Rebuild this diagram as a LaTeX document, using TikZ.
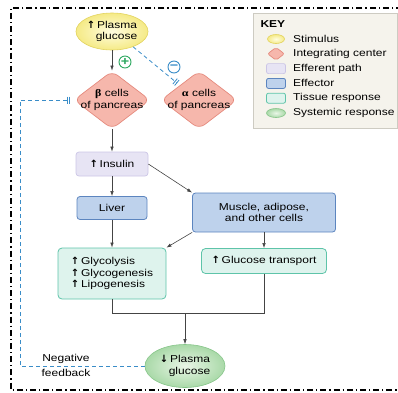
\documentclass[tikz,border=0pt]{standalone}
\usepackage{fontspec}
\setmainfont{Liberation Sans}[FakeStretch=1.2]
\newfontfamily\grkfont{Liberation Serif}[FakeStretch=1.2]
\newfontfamily\arrfont{DejaVu Sans}
\usepackage{tikz}
\usetikzlibrary{arrows.meta, shadows}
\usepgflibrary{shapes}
\definecolor{stimin}{HTML}{FFFDE0}
\definecolor{stimout}{HTML}{F5EA86}
\definecolor{stimline}{HTML}{E2D35E}
\definecolor{intfill}{HTML}{F6B7AC}
\definecolor{intline}{HTML}{E58A7D}
\definecolor{efffill}{HTML}{E7E4F4}
\definecolor{effline}{HTML}{CBC5E6}
\definecolor{fxfill}{HTML}{BED2EC}
\definecolor{fxline}{HTML}{5C85BF}
\definecolor{tisfill}{HTML}{DEF3ED}
\definecolor{tisline}{HTML}{5EC4A9}
\definecolor{sysin}{HTML}{EAF6E7}
\definecolor{sysout}{HTML}{A9D9A8}
\definecolor{sysline}{HTML}{86C589}
\definecolor{keyfill}{HTML}{F5F3EC}
\definecolor{keyline}{HTML}{CDCBC2}
\definecolor{fbblue}{HTML}{3A8DC8}
\definecolor{plusgreen}{HTML}{2DA860}
\definecolor{arrgray}{HTML}{444444}
\newcommand\Up{{\arrfont\bfseries ↑}\,}
\newcommand\Dn{{\arrfont\bfseries ↓}\,}

\begin{document}
\begin{tikzpicture}[x=1pt, y=-1pt,
    font=\fontsize{10}{11.5}\selectfont,
    stim/.style={ellipse, draw=stimline, line width=0.6pt, inner color=stimin, outer color=stimout},
    intc/.style={diamond, draw=intline, fill=intfill, line width=0.7pt, rounded corners=7pt,
        minimum width=76pt, minimum height=58pt, inner sep=0pt},
    eff/.style={rectangle, rounded corners=3pt, draw=effline, fill=efffill, line width=0.7pt},
    fx/.style={rectangle, rounded corners=3pt, draw=fxline, fill=fxfill, line width=0.8pt},
    tis/.style={rectangle, rounded corners=4pt, draw=tisline, fill=tisfill, line width=0.8pt},
    sys/.style={ellipse, draw=sysline, line width=0.6pt, inner color=sysin, outer color=sysout},
    arr/.style={draw=arrgray, line width=0.6pt, -{Latex[length=5pt,width=3.5pt]}},
    ln/.style={draw=arrgray, line width=0.6pt},
    fb/.style={draw=fbblue, line width=0.8pt, dash pattern=on 4pt off 3pt},
    inh/.style={fb, -{Bar[width=7pt,sep=1.5pt]Bar[width=7pt,sep=1.5pt]}, shorten >=2pt},
    sign/.style={circle, draw, fill=white, line width=0.9pt, inner sep=0pt, minimum size=12pt,
        font=\bfseries\fontsize{12}{12}\selectfont},
    frame/.style={line width=1.1pt, dash pattern=on 6pt off 3pt on 1.2pt off 3pt}]

  \useasboundingbox (0,0) rectangle (398,392);
  \draw[frame] (402,8) -| (11,390) -- (402,390);

  % key
  \node[draw=keyline, fill=keyfill, line width=0.6pt, minimum width=144pt, minimum height=115pt,
      drop shadow={opacity=0.25, shadow xshift=1pt, shadow yshift=-1pt}] (key) at (325,70.5) {};
  \node[anchor=west, font=\bfseries\fontsize{10}{11}\selectfont] (keyt) at (257,24) {KEY};
  \tikzset{
    kstim/.style={stim, minimum width=17pt, minimum height=9pt, inner sep=0pt},
    kint/.style={intc, minimum width=17pt, minimum height=13pt, rounded corners=2pt},
    keff/.style={eff, minimum width=19pt, minimum height=10pt, inner sep=0pt, rounded corners=2pt},
    kfx/.style={fx, minimum width=19pt, minimum height=10pt, inner sep=0pt, rounded corners=2pt},
    ktis/.style={tis, minimum width=19pt, minimum height=10pt, inner sep=0pt, rounded corners=2pt},
    ksys/.style={sys, minimum width=19pt, minimum height=9pt, inner sep=0pt}}
  \foreach \s/\t [count=\i from 0] in {kstim/Stimulus, kint/Integrating center, keff/Efferent path,
      kfx/Effector, ktis/Tissue response, ksys/Systemic response}{
    \node[\s] (k\i) at (276,39+14.8*\i) {};
    \node[anchor=west, inner sep=0pt] (kt\i) at (293,39+14.8*\i) {\t};
  }

  % pathway
  \node[stim, minimum width=72pt, minimum height=37pt, inner sep=0pt, align=center] (hi) at (112,31.5)
      {\Up Plasma\\\hspace*{9pt}glucose};
  \node[intc, label={[align=center]center:{{\grkfont\bfseries β} cells\\of pancreas}}] (beta) at (112,100) {};
  \node[intc, label={[align=center]center:{{\grkfont\bfseries α} cells\\of pancreas}}] (alpha) at (199,100) {};
  \node[sign, draw=plusgreen, text=plusgreen] (plus) at (125,62) {+};
  \node[sign, draw=fbblue, text=fbblue] (minus) at (174,67) {−};
  \node[eff, minimum width=72pt, minimum height=24pt] (ins) at (112,164) {\Up Insulin};
  \node[fx, minimum width=70pt, minimum height=23pt] (liver) at (112,208) {Liver};
  \node[fx, minimum width=143pt, minimum height=39pt, align=center] (muscle) at (264,212.5)
      {Muscle, adipose,\\and other cells};
  \node[tis, minimum width=108pt, minimum height=51pt, align=left] (glyco) at (112,273.5)
      {\Up Glycolysis\\\Up Glycogenesis\\\Up Lipogenesis};
  \node[tis, minimum width=125pt, minimum height=25pt] (transp) at (264,261) {\Up Glucose transport};
  \node[sys, minimum width=80pt, minimum height=43pt, inner sep=0pt, align=center] (lo) at (185,366)
      {\Dn Plasma\\\hspace*{9pt}glucose};
  \node[align=center, font=\fontsize{10}{15}\selectfont] (negfb) at (66,365) {Negative\\feedback};
  \coordinate (j) at (185,313);
  \coordinate (fbx) at (20,0);

  \draw[arr] (hi) -- (beta);
  \draw[inh] (hi.-36) -- (alpha.north west);
  \draw[arr] (beta) -- (ins);
  \draw[arr] (ins) -- (liver);
  \draw[arr] (ins.east) -- (muscle.north west);
  \draw[arr] (liver) -- (glyco);
  \draw[arr] (muscle.south west) -- (glyco.north east);
  \draw[arr] (muscle) -- (transp);
  \draw[ln] (glyco.south) |- (j) -| (transp.south);
  \draw[arr] (j) -- (lo);
  \draw[inh] (lo.west) -- (lo.west -| fbx) |- (beta.west);
\end{tikzpicture}
\end{document}
